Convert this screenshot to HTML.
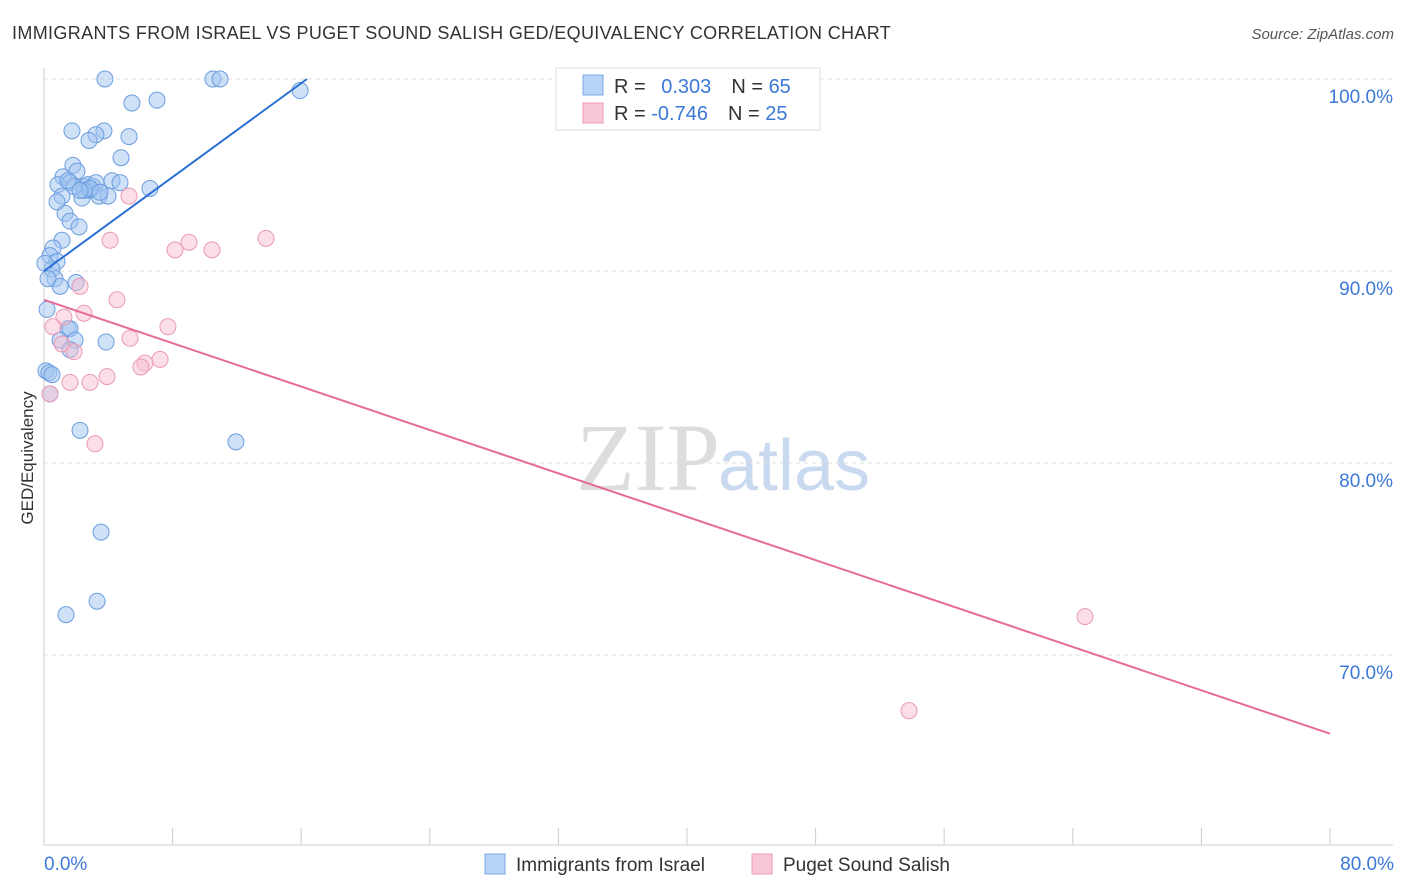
<!DOCTYPE html>
<html><head><meta charset="utf-8">
<style>
body{margin:0;background:#fff;font-family:"Liberation Sans",sans-serif;}
svg{display:block}
</style></head>
<body>
<svg id="chart" width="1406" height="892" xmlns="http://www.w3.org/2000/svg">
<text x="12" y="39" font-size="18" fill="#333" letter-spacing="0.35">IMMIGRANTS FROM ISRAEL VS PUGET SOUND SALISH GED/EQUIVALENCY CORRELATION CHART</text>
<text x="1394" y="39" font-size="15" fill="#555" text-anchor="end" font-style="italic">Source: ZipAtlas.com</text>
<text x="720" y="490" font-size="96" fill="#ddd" text-anchor="end" font-family="Liberation Serif,serif">ZIP</text>
<text x="718" y="490" font-size="72" fill="#c9d9ef">atlas</text>
<g id="grid"></g>
<g id="axes"></g>
<g id="pts"></g>
<g id="lines"></g>
<text transform="translate(33,458) rotate(-90)" font-size="17" fill="#333" text-anchor="middle">GED/Equivalency</text>
<g>
<rect x="556" y="68" width="264" height="62" fill="#fff" stroke="#ddd"/>
<rect x="583" y="75" width="20" height="20" fill="#b7d3f6" stroke="#7aa7e6"/>
<rect x="583" y="103" width="20" height="20" fill="#f9c8d6" stroke="#ec9ab3"/>
<text x="614" y="93" font-size="20" fill="#333">R = <tspan fill="#3b78d8" dx="10">0.303</tspan><tspan dx="20" fill="#333">N = </tspan><tspan fill="#3b78d8">65</tspan></text>
<text x="614" y="120" font-size="20" fill="#333">R = <tspan fill="#3b78d8">-0.746</tspan><tspan dx="20" fill="#333">N = </tspan><tspan fill="#3b78d8">25</tspan></text>
</g>
<g>
<rect x="485" y="854" width="20" height="20" fill="#b7d3f6" stroke="#7aa7e6"/>
<text x="516" y="871" font-size="19" fill="#333">Immigrants from Israel</text>
<rect x="752" y="854" width="20" height="20" fill="#f9c8d6" stroke="#ec9ab3"/>
<text x="783" y="871" font-size="19" fill="#333">Puget Sound Salish</text>
</g>
</svg>
<script>
const yTicks=[100,90,80,70];
const yTickLabels=["100.0%","90.0%","80.0%","70.0%"];
const xTickLabels=["0.0%","80.0%"];
const blueX=[3.79,10.51,10.95,5.47,7.03,15.93,1.74,3.73,3.23,2.8,5.29,4.79,1.8,1.18,2.05,0.87,1.62,2.49,2.86,2.74,3.05,3.23,4.23,4.73,6.59,1.12,0.81,2.36,3.42,3.98,1.31,1.62,2.18,1.12,0.56,0.37,0.81,0.5,0.68,1.99,1.0,0.19,1.49,1.62,1.0,1.93,3.86,1.62,0.12,0.31,0.37,2.24,11.94,3.55,3.3,1.37,0.06,2.49,1.87,2.86,1.49,2.24,0.25,3.48,0.5];
const blueY=[100,100,100,98.75,98.9,99.4,97.3,97.3,97.1,96.8,97.0,95.9,95.5,94.9,95.2,94.5,94.6,94.4,94.2,94.5,94.4,94.6,94.7,94.6,94.3,93.9,93.6,93.8,93.9,93.9,93.0,92.6,92.3,91.6,91.2,90.8,90.5,90.1,89.6,89.4,89.2,88.0,87.0,87.0,86.4,86.4,86.3,85.9,84.8,84.7,83.6,81.7,81.1,76.4,72.8,72.1,90.4,94.2,94.4,94.3,94.7,94.2,89.6,94.1,84.6];
const pinkX=[5.29,4.11,9.02,8.15,10.45,13.81,2.24,4.54,2.49,1.24,0.56,7.71,5.35,1.12,1.87,6.28,6.03,7.22,3.92,2.86,1.62,0.37,3.17,64.76,53.81];
const pinkY=[93.9,91.6,91.5,91.1,91.1,91.7,89.2,88.5,87.8,87.6,87.1,87.1,86.5,86.2,85.8,85.2,85.0,85.4,84.5,84.2,84.2,83.6,81.0,72.0,67.1];
const blueTrend=[0,90.0,16.36,100];
const pinkTrend=[0,88.5,80,65.9];
const X=v=>44+v*16.075, Y=v=>79+(100-v)*19.2;
const NS="http://www.w3.org/2000/svg";
function mk(t,a,p){const e=document.createElementNS(NS,t);for(const k in a)e.setAttribute(k,a[k]);p.appendChild(e);return e;}
const grid=document.getElementById('grid'),axes=document.getElementById('axes'),pts=document.getElementById('pts'),lines=document.getElementById('lines');
yTicks.forEach((t,i)=>{
 const l=mk('line',{x1:44,x2:1393,y1:Y(t),y2:Y(t),stroke:'#ddd','stroke-dasharray':'4,4'},grid);
 
 
 const tx=mk('text',{x:1393,y:Y(t)+24,'font-size':19,fill:'#3b78d8','text-anchor':'end'},axes);
 tx.textContent=yTickLabels[i];
 
 
});
const a1=mk('line',{x1:44,x2:44,y1:68,y2:845,stroke:'#ccc'},axes);


const a2=mk('line',{x1:44,x2:1393,y1:845,y2:845,stroke:'#ccc'},axes);


for(let i=0;i<=10;i++){
 const t=mk('line',{x1:X(i*8),x2:X(i*8),y1:828,y2:845,stroke:'#ccc'},axes);
 
 
}
[[0,'start'],[80,'end']].forEach((d,i)=>{
 const tx=mk('text',{x:i?1394:44,y:870,'font-size':19,fill:'#3b78d8','text-anchor':d[1]},axes);
 tx.textContent=xTickLabels[i];
 
 
});
blueX.forEach((x,i)=>{
 const c=mk('circle',{cx:X(x),cy:Y(blueY[i]),r:8,fill:'rgba(160,196,240,0.5)',stroke:'#6b9de0','stroke-width':1},pts);
 
 
});
pinkX.forEach((x,i)=>{
 const c=mk('circle',{cx:X(x),cy:Y(pinkY[i]),r:8,fill:'rgba(248,190,208,0.5)',stroke:'#eb9ab3','stroke-width':1},pts);
 
 
});
const bl=mk('line',{x1:X(blueTrend[0]),y1:Y(blueTrend[1]),x2:X(blueTrend[2]),y2:Y(blueTrend[3]),stroke:'#2a6fd6','stroke-width':2},lines);


const pl=mk('line',{x1:X(pinkTrend[0]),y1:Y(pinkTrend[1]),x2:X(pinkTrend[2]),y2:Y(pinkTrend[3]),stroke:'#e66b95','stroke-width':2},lines);


</script>
</body></html>
